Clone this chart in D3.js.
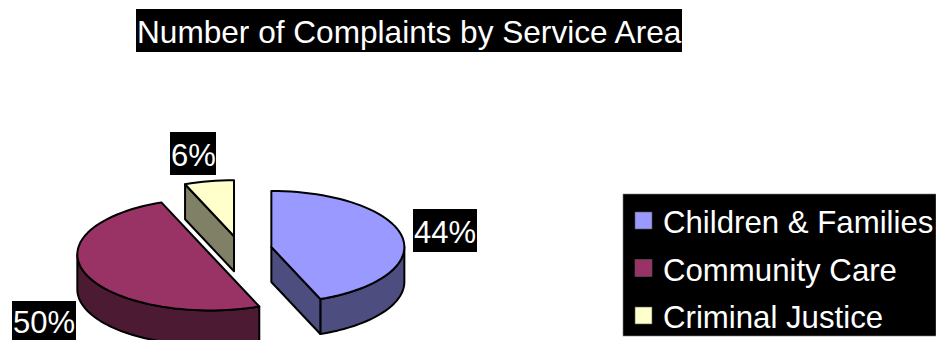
<!DOCTYPE html>
<html>
<head>
<meta charset="utf-8">
<script src="https://cdn.jsdelivr.net/npm/d3@7"></script>
<style>
  html, body { margin: 0; padding: 0; background: #fff; }
  svg { display: block; }
  text { font-family: "Liberation Sans", Arial, sans-serif; fill: #fff; }
</style>
</head>
<body>
<svg id="chart" width="936" height="340"></svg>
<script>
// Complaint shares per service area
const categories = ["Children & Families", "Community Care", "Criminal Justice"];
const values = [44, 50, 6];
const topColors = ["#9999ff", "#993366", "#ffffcc"];
const sideColors = ["#4d4d80", "#4d1a33", "#808066"];
const chartTitle = "Number of Complaints by Service Area";

const svg = d3.select("#chart");

// Pie projection: a tilted disc with a fixed extrusion and exploded slices
const cx = 240, cy = 249.5, rx = 133, ry = 56, depth = 35, explode = 0.24;
const px = d3.scaleLinear().domain([0, 1]).range([0, rx]);
const py = d3.scaleLinear().domain([0, 1]).range([0, ry]);

const slices = d3.pie().sort(null).value(d => d)(values);
const line = d3.line();

function project(angle, c, dz = 0) {
  return [c.x + px(Math.sin(angle)), c.y - py(Math.cos(angle)) + dz];
}
function arcPoints(a0, a1, c, dz = 0) {
  const n = Math.max(2, Math.ceil((a1 - a0) / 0.05));
  return d3.range(n + 1).map(i => project(a0 + (a1 - a0) * i / n, c, dz));
}
function sliceCentre(s) {
  const mid = (s.startAngle + s.endAngle) / 2;
  return { x: cx + px(Math.sin(mid)) * explode, y: cy - py(Math.cos(mid)) * explode };
}

const g = svg.append("g")
  .attr("stroke", "#000").attr("stroke-width", 2).attr("stroke-linejoin", "round");

// Back-to-front order keeps overlaps right: Community Care, Criminal Justice, Children & Families
[1, 2, 0].forEach(i => {
  const s = slices[i], c = sliceCentre(s), base = [c.x, c.y];
  const group = g.append("g");

  // Rim: the part of the outer wall that faces the viewer
  const a0 = Math.max(s.startAngle, Math.PI / 2);
  const a1 = Math.min(s.endAngle, Math.PI * 1.5);
  if (a1 > a0) {
    const upper = arcPoints(a0, a1, c);
    const lower = arcPoints(a0, a1, c, depth).reverse();
    group.append("path").attr("d", line(upper.concat(lower)) + "Z").attr("fill", sideColors[i]);
  }

  // Cut face: visible on the radial edge whose wall faces the viewer
  if (i !== 1) {
    const edge = i === 0 ? s.endAngle : s.startAngle;
    const rim = project(edge, c);
    const face = [base, rim, [rim[0], rim[1] + depth], [base[0], base[1] + depth]];
    group.append("path").attr("d", line(face) + "Z").attr("fill", sideColors[i]);
  }

  // Top surface
  const top = [base].concat(arcPoints(s.startAngle, s.endAngle, c));
  group.append("path").attr("d", line(top) + "Z").attr("fill", topColors[i]);
});

function boxedText(str, x, baseline, size, box) {
  svg.append("rect").attr("x", box[0]).attr("y", box[1])
    .attr("width", box[2] - box[0]).attr("height", box[3] - box[1]).attr("fill", "#000");
  svg.append("text").attr("x", x).attr("y", baseline).attr("font-size", size).text(str);
}

// Title
boxedText(chartTitle, 137, 43, 31.6, [136, 9, 682, 52]);

// Percentage labels
const total = d3.sum(values);
const pct = v => d3.format(".0%")(v / total);
boxedText(pct(values[0]), 414, 243, 31, [413, 209, 477, 252]);
boxedText(pct(values[1]), 13, 333, 31, [12, 301, 76, 340]);
boxedText(pct(values[2]), 171, 166, 31, [170, 132, 216, 175]);

// Legend
svg.append("rect").attr("x", 623).attr("y", 194).attr("width", 313).attr("height", 142)
  .attr("fill", "#000").attr("stroke", "#808080").attr("stroke-width", 0.6);
const rowY = d3.scalePoint().domain(categories).range([233, 328]);
categories.forEach((name, i) => {
  svg.append("rect").attr("x", 635).attr("y", rowY(name) - 21).attr("width", 17).attr("height", 17)
    .attr("fill", topColors[i]).attr("stroke", "#555").attr("stroke-width", 0.6);
  svg.append("text").attr("x", 663).attr("y", rowY(name)).attr("font-size", 31.2).text(name);
});
</script>
</body>
</html>
